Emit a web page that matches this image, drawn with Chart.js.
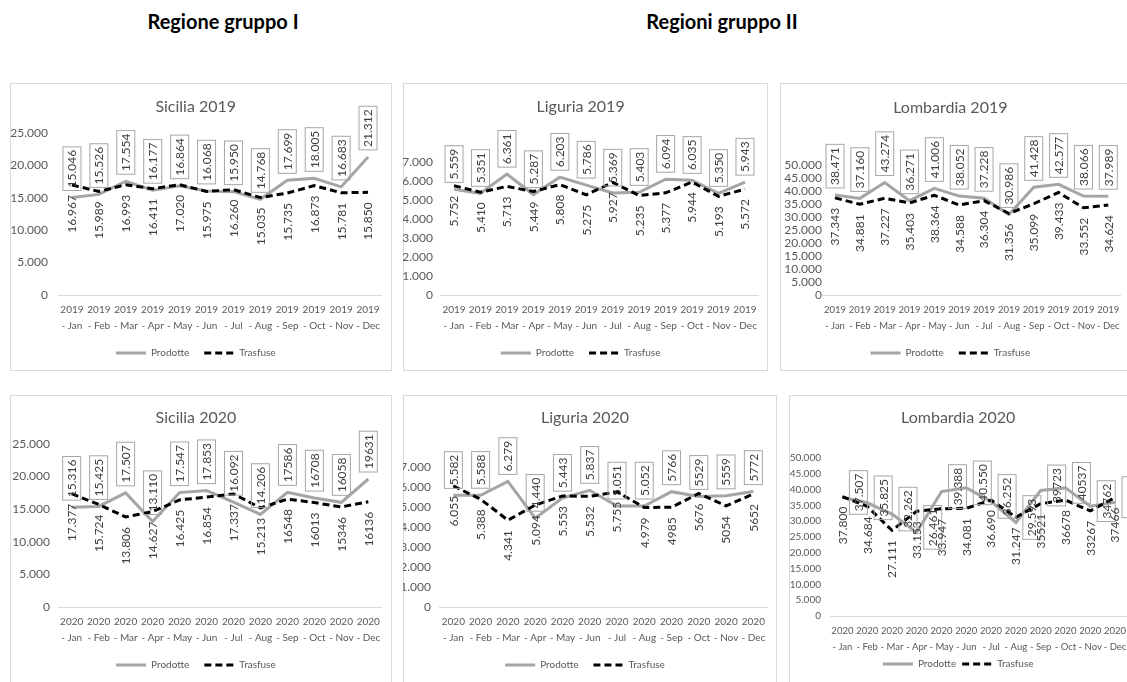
<!DOCTYPE html>
<html>
<head>
<meta charset="utf-8">
<script src="https://cdn.jsdelivr.net/npm/chart.js@4.4.1/dist/chart.umd.min.js"></script>
<style>
  html, body { margin: 0; padding: 0; overflow: hidden; background: #fff; }
  body { width: 1127px; height: 682px; position: relative; font-family: Lato, sans-serif; }
  .head { position: absolute; top: 9px; font-weight: bold; font-size: 20px; color: #000; transform: translateX(-50%); white-space: nowrap; }
  .frame { position: absolute; border: 1px solid #d9d9d9; box-sizing: border-box; }
  canvas { position: absolute; }
</style>
</head>
<body>
<div class="head" style="left:223px">Regione gruppo I</div>
<div class="head" style="left:722px">Regioni gruppo II</div>
<script>
const months = ['Jan', 'Feb', 'Mar', 'Apr', 'May', 'Jun', 'Jul', 'Aug', 'Sep', 'Oct', 'Nov', 'Dec'];
const labels2019 = months.map(m => ['2019', '- ' + m]);
const labels2020 = months.map(m => ['2020', '- ' + m]);

const siciliaProdotte2019 = [15046, 15526, 17554, 16177, 16864, 16068, 15950, 14768, 17699, 18005, 16683, 21312];
const siciliaTrasfuse2019 = [16967, 15989, 16993, 16411, 17020, 15975, 16260, 15035, 15735, 16873, 15781, 15850];
const liguriaProdotte2019 = [5559, 5351, 6361, 5287, 6203, 5786, 5369, 5403, 6094, 6035, 5350, 5943];
const liguriaTrasfuse2019 = [5752, 5410, 5713, 5449, 5808, 5275, 5927, 5235, 5377, 5944, 5193, 5572];
const lombardiaProdotte2019 = [38471, 37160, 43274, 36271, 41006, 38052, 37228, 30986, 41428, 42577, 38066, 37989];
const lombardiaTrasfuse2019 = [37343, 34881, 37227, 35403, 38364, 34588, 36304, 31356, 35099, 39433, 33552, 34624];

const siciliaProdotte2020 = [15316, 15425, 17507, 13110, 17547, 17853, 16092, 14206, 17586, 16708, 16058, 19631];
const siciliaTrasfuse2020 = [17377, 15724, 13806, 14627, 16425, 16854, 17337, 15213, 16548, 16013, 15346, 16136];
const liguriaProdotte2020 = [5582, 5588, 6279, 4440, 5443, 5837, 5051, 5052, 5766, 5529, 5559, 5772];
const liguriaTrasfuse2020 = [6055, 5388, 4341, 5094, 5553, 5532, 5755, 4979, 4985, 5676, 5054, 5652];
const lombardiaProdotte2020 = [37507, 35825, 32262, 26461, 39388, 40550, 36252, 29593, 39723, 40537, 34762, 36016];
const lombardiaTrasfuse2020 = [37800, 34684, 27111, 33153, 33947, 34081, 36690, 31247, 35521, 36678, 33267, 37466];

const grey = '#595959';

function fmt(v, plain) {
  const s = String(Math.round(v));
  return plain ? s : s.replace(/\B(?=(\d{3})+(?!\d))/g, '.');
}

// rotated value labels: Prodotte in a box above (or beside), Trasfuse below
const dataLabels = {
  id: 'dataLabels',
  afterDatasetsDraw(chart, args, opts) {
    const ctx = chart.ctx;
    ctx.save();
    ctx.font = '12px Lato';
    ctx.fillStyle = '#404040';
    ctx.textBaseline = 'middle';
    chart.data.datasets.forEach((ds, di) => {
      chart.getDatasetMeta(di).data.forEach((pt, i) => {
        const text = fmt(ds.data[i], i >= opts.plainFrom);
        const w = ctx.measureText(text).width;
        ctx.save();
        ctx.translate(pt.x, pt.y);
        ctx.rotate(-Math.PI / 2);
        if (di === 0) {
          let cx = 10 + w / 2, cy = 0;
          if (opts.side) { cx = opts.lift; cy = opts.side; }
          ctx.strokeStyle = '#a6a6a6';
          ctx.lineWidth = 1;
          ctx.strokeRect(cx - w / 2 - 3, cy - 9, w + 6, 18);
          ctx.textAlign = 'center';
          ctx.fillText(text, cx, cy + 0.5);
        } else {
          ctx.textAlign = 'right';
          ctx.fillText(text, -10, 0.5);
        }
        ctx.restore();
      });
    });
    ctx.restore();
  }
};

const panels = [
  { title: 'Sicilia 2019', labels: labels2019, prod: siciliaProdotte2019, tras: siciliaTrasfuse2019, max: 25000, step: 5000,
    frame: [10, 83, 382, 288], titleY: 107, area: [58.5, 133, 381.5, 295], yRight: 48, xH: 38, legPad: 15, plainFrom: 12, xFont: 10, yFont: 12 },
  { title: 'Liguria 2019', labels: labels2019, prod: liguriaProdotte2019, tras: liguriaTrasfuse2019, max: 7000, step: 1000,
    frame: [403, 83, 365, 288], titleY: 107, area: [440.8, 162, 758.2, 295], yRight: 433, xH: 38, legPad: 15, plainFrom: 12, xFont: 10, yFont: 12 },
  { title: 'Lombardia 2019', labels: labels2019, prod: lombardiaProdotte2019, tras: lombardiaTrasfuse2019, max: 50000, step: 5000,
    frame: [780, 83, 354, 288], titleY: 108, area: [822.6, 165, 1120.7, 295], yRight: 822, xH: 38, legPad: 15, plainFrom: 12, xFont: 9.5, yFont: 12 },
  { title: 'Sicilia 2020', labels: labels2020, prod: siciliaProdotte2020, tras: siciliaTrasfuse2020, max: 25000, step: 5000,
    frame: [10, 395, 382, 295], titleY: 418, area: [58.2, 444, 381.8, 607], yRight: 50, xH: 38, legPad: 15, plainFrom: 8, xFont: 10, yFont: 12 },
  { title: 'Liguria 2020', labels: labels2020, prod: liguriaProdotte2020, tras: liguriaTrasfuse2020, max: 7000, step: 1000,
    frame: [403, 395, 374, 295], titleY: 418, area: [439.7, 467, 767, 607], yRight: 431, xH: 38, legPad: 15, plainFrom: 8, xFont: 10, yFont: 12 },
  { title: 'Lombardia 2020', labels: labels2020, prod: lombardiaProdotte2020, tras: lombardiaTrasfuse2020, max: 50000, step: 5000,
    frame: [789, 395, 346, 295], titleY: 418, area: [830, 458, 1127.4, 616], yRight: 821, xH: 37, legPad: 6, plainFrom: 8, xFont: 9.5, yFont: 10,
    side: 16, lift: 5 }
];

panels.forEach(p => {
  const [fx, fy, fw, fh] = p.frame;
  const frame = document.createElement('div');
  frame.className = 'frame';
  Object.assign(frame.style, { left: fx + 'px', top: fy + 'px', width: fw + 'px', height: fh + 'px' });
  document.body.appendChild(frame);

  const canvas = document.createElement('canvas');
  canvas.width = fw;
  canvas.height = fh;
  Object.assign(canvas.style, { left: fx + 'px', top: fy + 'px' });
  document.body.appendChild(canvas);

  const titleLine = 19.2;
  const titleTop = p.titleY - fy - titleLine / 2;
  const areaTop = p.area[1] - fy;
  const areaBottom = p.area[3] - fy;
  const areaLeft = p.area[0] - fx;
  const legendH = 10 + p.legPad + 10;

  new Chart(canvas.getContext('2d'), {
    type: 'line',
    data: {
      labels: p.labels,
      datasets: [
        { label: 'Prodotte', data: p.prod, borderColor: '#a5a5a5', backgroundColor: '#a5a5a5', borderWidth: 3,
          pointRadius: 0, tension: 0, order: 2 },
        { label: 'Trasfuse', data: p.tras, borderColor: '#000', backgroundColor: '#000', borderWidth: 3,
          borderDash: [7, 4], pointRadius: 0, tension: 0, order: 1 }
      ]
    },
    options: {
      responsive: false,
      animation: false,
      devicePixelRatio: 1,
      layout: {
        padding: { left: 0, top: 0, right: fw - (p.area[2] - fx), bottom: fh - (areaBottom + p.xH + legendH) }
      },
      plugins: {
        title: {
          display: true, text: p.title, color: grey,
          font: { family: 'Lato', size: 16, weight: 'normal', lineHeight: 1.2 },
          padding: { top: titleTop, bottom: areaTop - titleTop - titleLine }
        },
        legend: {
          position: 'bottom',
          labels: {
            usePointStyle: true, pointStyle: 'line', pointStyleWidth: 30, padding: p.legPad,
            color: grey, font: { family: 'Lato', size: 10 },
            sort: (a, b) => a.datasetIndex - b.datasetIndex,
            generateLabels: c => Chart.defaults.plugins.legend.labels.generateLabels(c).map(it => {
              const ds = c.data.datasets[it.datasetIndex];
              it.lineDash = ds.borderDash || [];
              it.lineWidth = ds.borderWidth;
              it.strokeStyle = ds.borderColor;
              return it;
            })
          }
        },
        tooltip: { enabled: false },
        dataLabels: { plainFrom: p.plainFrom, side: p.side, lift: p.lift }
      },
      scales: {
        x: {
          offset: true,
          grid: { display: false, drawTicks: false },
          border: { display: true, color: '#d9d9d9' },
          ticks: { maxRotation: 0, autoSkip: false, padding: 7, color: grey,
            font: { family: 'Lato', size: p.xFont, lineHeight: 16 / p.xFont } },
          afterFit: s => { s.height = p.xH; }
        },
        y: {
          min: 0, max: p.max,
          grid: { display: false, drawTicks: false },
          border: { display: false },
          ticks: { stepSize: p.step, autoSkip: false, padding: p.area[0] - p.yRight, color: grey,
            font: { family: 'Lato', size: p.yFont }, callback: v => fmt(v) },
          afterFit: s => { s.width = areaLeft; }
        }
      }
    },
    plugins: [dataLabels]
  });
});
</script>
</body>
</html>
